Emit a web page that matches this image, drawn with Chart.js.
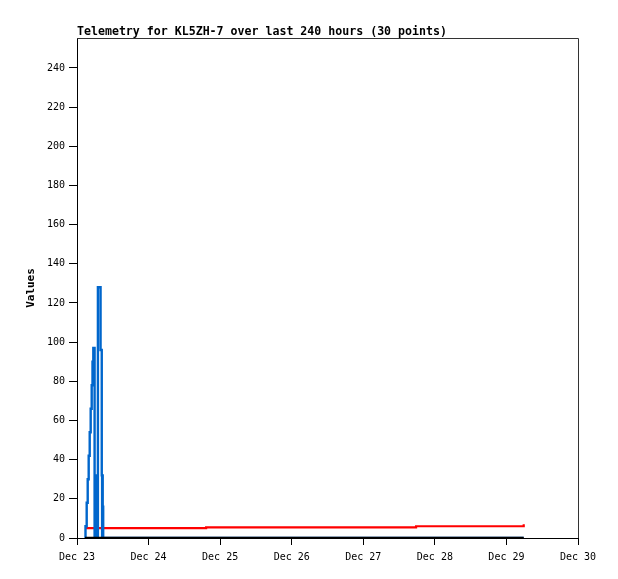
<!DOCTYPE html>
<html><head><meta charset="utf-8">
<script src="https://cdn.jsdelivr.net/npm/chart.js@4/dist/chart.umd.min.js"></script>
<style>html,body{margin:0;padding:0;background:#fff;} canvas{display:block}</style>
</head><body>
<canvas id="c" width="618" height="579"></canvas>
<script>
const titleText = 'Telemetry for KL5ZH-7 over last 240 hours (30 points)';
const yAxisTitle = 'Values';
// hours since Dec 23 00:00
const hours = [2.68, 2.85, 3.25, 3.59, 3.92, 4.26, 4.59, 4.93, 5.20, 5.47,
  5.90, 6.00, 6.10, 6.22, 6.34, 6.46, 6.58, 6.70, 6.84, 7.01,
  7.90, 8.30, 8.42, 8.52, 8.62, 8.70, 8.78, 43.3, 113.7, 149.8];
const blueValues = [0, 6, 18, 30, 42, 54, 66, 78, 90, 97,
  0, 16, 0, 32, 0, 16, 0, 32, 0, 128,
  96, 32, 0, 32, 0, 16, 0, 0, 0, 0];
const redValues = [5, 5, 5, 5, 5, 5, 5, 5, 5, 5,
  5, 5, 5, 5, 5, 5, 5, 5, 5, 5,
  5, 5, 5, 5, 5, 5, 5, 5.4, 6.0, 7.0];
const blackValues = [0, 0, 0, 0, 0, 0, 0, 0, 0, 0,
  0, 0, 0, 0, 0, 0, 0, 0, 0, 0,
  0, 0, 0, 0, 0, 0, 0, 0, 0, 0];
const xTickLabels = ['Dec 23', 'Dec 24', 'Dec 25', 'Dec 26', 'Dec 27', 'Dec 28', 'Dec 29', 'Dec 30'];
const xTickValues = [0, 24, 48, 72, 96, 120, 144, 168];
const yTickValues = [0, 20, 40, 60, 80, 100, 120, 140, 160, 180, 200, 220, 240];

const pts = vals => hours.map((h, i) => ({x: h, y: vals[i]}));
const mono = 'DejaVu Sans Mono';

const framePlugin = {
  id: 'frame',
  afterDraw(chart) {
    const {ctx, chartArea: a} = chart;
    ctx.save();
    ctx.strokeStyle = '#333';
    ctx.lineWidth = 1;
    ctx.beginPath();
    ctx.moveTo(a.left, a.top + 0.5);
    ctx.lineTo(a.right + 0.5, a.top + 0.5);
    ctx.lineTo(a.right + 0.5, a.bottom);
    ctx.stroke();
    ctx.fillStyle = '#000';
    ctx.font = 'bold 11.6px "' + mono + '"';
    ctx.textBaseline = 'alphabetic';
    ctx.textAlign = 'left';
    ctx.fillText(titleText, a.left, a.top - 3);
    ctx.restore();
  }
};

new Chart(document.getElementById('c'), {
  type: 'line',
  data: {
    datasets: [
      {data: pts(blackValues), borderColor: '#000', borderWidth: 2.5, stepped: 'before', pointRadius: 0, order: 1},
      {data: pts(blueValues), borderColor: '#0066cc', borderWidth: 2.4, stepped: 'before', pointRadius: 0, order: 2},
      {data: pts(redValues), borderColor: '#ff0000', borderWidth: 2.2, stepped: 'before', pointRadius: 0, order: 3}
    ]
  },
  options: {
    responsive: false,
    animation: false,
    events: [],
    layout: {padding: {top: 38, right: 40, left: 0, bottom: 0}},
    plugins: {legend: {display: false}, tooltip: {enabled: false}, title: {display: false}},
    scales: {
      x: {
        type: 'linear', min: 0, max: 168,
        afterBuildTicks: s => { s.ticks = xTickValues.map(v => ({value: v})); },
        afterFit: s => { s.height = 41; },
        grid: {drawOnChartArea: false, drawTicks: true, tickLength: 7, color: '#000'},
        border: {color: '#000', width: 1},
        ticks: {autoSkip: false, maxRotation: 0, padding: 6, color: '#000',
          font: {family: mono, size: 10},
          callback: (v, i) => xTickLabels[i]}
      },
      y: {
        min: 0, max: 255.3,
        afterBuildTicks: s => { s.ticks = yTickValues.map(v => ({value: v})); },
        afterFit: s => { s.width = 77; },
        grid: {drawOnChartArea: false, drawTicks: true, tickLength: 8, color: '#000'},
        border: {color: '#000', width: 1},
        ticks: {padding: 4, color: '#000', font: {family: mono, size: 10}},
        title: {display: true, text: yAxisTitle, color: '#000',
          font: {family: mono, weight: 'bold', size: 11}, padding: {top: 25, bottom: 0}}
      }
    }
  },
  plugins: [framePlugin]
});
</script></body></html>
